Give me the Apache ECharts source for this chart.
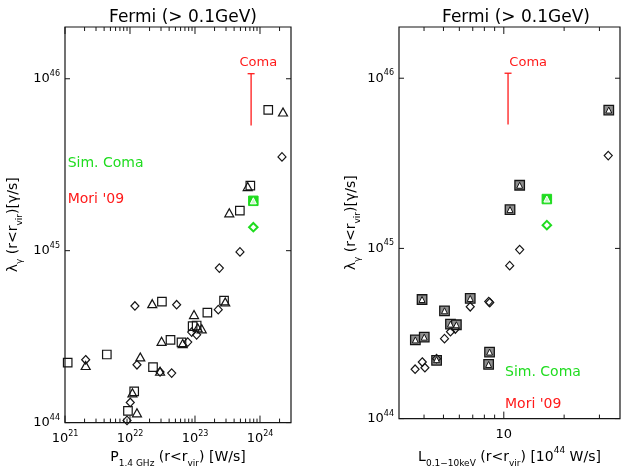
<!DOCTYPE html>
<html>
<head>
<meta charset="utf-8">
<script src="https://cdn.jsdelivr.net/npm/echarts@6/dist/echarts.min.js"></script>
<style>
  html, body { margin: 0; padding: 0; background: #fff; }
  #chart { width: 623px; height: 473px; }
</style>
</head>
<body>
<div id="chart"></div>
<script>
// ---------------- data ----------------
// Left panel: gamma-ray luminosity vs. 1.4 GHz radio power [W/s]
const radioSquares = [
  [1.1e21, 2.23e44], [4.4e21, 2.49e44], [3.1e22, 5.06e44], [1.55e23, 4.36e44],
  [2.8e23, 5.12e44], [9.2e22, 3.64e44], [1.06e23, 3.67e44], [4.2e22, 3.03e44],
  [6.2e22, 2.93e44], [2.26e22, 2.10e44], [1.16e22, 1.52e44], [9.3e21, 1.17e44],
  [1.34e24, 6.59e45], [7.1e23, 2.39e45], [4.9e23, 1.71e45]
];
const radioTriangles = [
  [2.08e21, 2.15e44], [2.2e22, 4.92e44], [9.66e22, 4.25e44], [2.92e23, 5.03e44],
  [1.27e23, 3.51e44], [1.10e23, 3.56e44], [3.06e22, 2.97e44], [6.47e22, 2.88e44],
  [1.44e22, 2.41e44], [2.9e22, 1.99e44], [1.09e22, 1.49e44], [1.28e22, 1.14e44],
  [2.26e24, 6.41e45], [6.47e23, 2.36e45], [3.37e23, 1.66e45]
];
const radioDiamonds = [
  [2.08e21, 2.32e44], [1.19e22, 4.77e44], [5.22e22, 4.85e44], [2.28e23, 4.54e44],
  [2.37e23, 7.92e44], [4.92e23, 9.84e44], [8.9e22, 3.36e44], [1.06e23, 3.24e44],
  [7.73e22, 2.94e44], [1.28e22, 2.17e44], [2.9e22, 1.97e44], [4.38e22, 1.94e44],
  [1.01e22, 1.31e44], [9.0e21, 1.03e44], [2.18e24, 3.51e45]
];
const radioSimComaBox = [[7.9e23, 1.95e45]];
const radioSimComaDiamond = [[7.9e23, 1.37e45]];
const radioComaLimit = [[7.3e23, 5.35e45, 1.07e46]];   // x, lower, upper

// Right panel: gamma-ray luminosity vs. 0.1-10 keV X-ray luminosity [1e44 W/s]
const xraySquares = [
  [3.62, 2.90e44], [3.91, 5.01e44], [4.01, 3.01e44], [4.62, 2.20e44],
  [5.06, 4.30e44], [5.42, 3.59e44], [5.80, 3.56e44], [6.8, 5.08e44],
  [8.4, 2.08e44], [8.49, 2.46e44], [10.74, 1.69e45], [12.0, 2.35e45],
  [33.4, 6.50e45]
];
const xrayTriangles = [
  [3.62, 2.90e44], [3.91, 5.01e44], [4.01, 3.01e44], [4.62, 2.22e44],
  [5.06, 4.30e44], [5.42, 3.59e44], [5.80, 3.56e44], [6.8, 5.08e44],
  [8.4, 2.08e44], [8.49, 2.46e44], [10.74, 1.69e45], [12.0, 2.35e45],
  [33.4, 6.50e45]
];
const xrayDiamonds = [
  [3.61, 1.95e44], [3.92, 2.15e44], [4.04, 1.99e44], [4.62, 2.25e44],
  [5.06, 2.95e44], [5.42, 3.24e44], [5.73, 3.36e44], [6.8, 4.54e44],
  [8.41, 4.87e44], [8.51, 4.81e44], [10.7, 7.92e44], [12.0, 9.84e44],
  [33.2, 3.51e45]
];
const xraySimComaBox = [[16.4, 1.95e45]];
const xraySimComaDiamond = [[16.4, 1.37e45]];
const xrayComaLimit = [[10.5, 5.35e45, 1.07e46]];

// axis ranges and tick positions
const lumRange = [1e44, 2e46];
const radioRange = [1e21, 3e24];
const xrayRange = [3, 38];
const lumTicks = [1e44, 1e45, 1e46];
const radioTicksMajor = [1e21, 1e22, 1e23, 1e24];
const radioTicksMinor = [
  2e21, 3e21, 4e21, 5e21, 6e21, 7e21, 8e21, 9e21,
  2e22, 3e22, 4e22, 5e22, 6e22, 7e22, 8e22, 9e22,
  2e23, 3e23, 4e23, 5e23, 6e23, 7e23, 8e23, 9e23,
  2e24
];
const xrayTicksMajor = [10];
const xrayTicksMinor = [4, 5, 6, 7, 8, 9, 20, 30];

// ---------------- styling ----------------
const FONT = 'DejaVu Sans';
const INK = '#151515';
const GREEN = '#1fdc1f';
const RED = '#ff1a1a';

const chart = echarts.init(document.getElementById('chart'), null, { renderer: 'canvas' });

function powLabel(v) {
  const e = Math.log10(v), r = Math.round(e);
  if (Math.abs(e - r) > 1e-6) return '';
  return '{b|10}{s|' + r + '}';
}
function xrayLabel(v) {
  const e = Math.log10(v), r = Math.round(e);
  if (Math.abs(e - r) > 1e-6) return '';
  return r === 1 ? '{b|10}' : '{b|10}{s|' + r + '}';
}
const tickRich = {
  b: { fontFamily: FONT, fontSize: 13, color: '#000', lineHeight: 18 },
  s: { fontFamily: FONT, fontSize: 8, color: '#000', lineHeight: 12, verticalAlign: 'top' }
};
const nameRich = {
  m: { fontFamily: FONT, fontSize: 14, color: '#000', lineHeight: 22 },
  sub: { fontFamily: FONT, fontSize: 9, color: '#000', lineHeight: 14, verticalAlign: 'bottom' },
  sup: { fontFamily: FONT, fontSize: 9, color: '#000', lineHeight: 16, verticalAlign: 'top' }
};

function logAxis(gi, range, formatter, extra) {
  return Object.assign({
    type: 'log', logBase: 10, gridIndex: gi, min: range[0], max: range[1],
    axisLine: { show: false }, axisTick: { show: false },
    splitLine: { show: false }, minorTick: { show: false }, minorSplitLine: { show: false },
    axisLabel: { formatter, rich: tickRich, color: '#000' },
    nameLocation: 'middle',
    nameTextStyle: { rich: nameRich }
  }, extra);
}

// inward IDL-style ticks on all four sides, placed through the axis scales
function tickSeries(gi, dir, values, len, ref) {
  return {
    type: 'custom', xAxisIndex: gi, yAxisIndex: gi, silent: true, clip: false, z: 6,
    data: values.map(v => dir === 'x' ? [v, ref] : [ref, v]),
    renderItem(params, api) {
      const cs = params.coordSys;
      const p = api.coord([api.value(0), api.value(1)]);
      const style = { stroke: INK, lineWidth: 1 };
      if (dir === 'x') {
        const b = cs.y + cs.height, t = cs.y;
        return { type: 'group', children: [
          { type: 'line', shape: { x1: p[0], y1: b, x2: p[0], y2: b - len }, style },
          { type: 'line', shape: { x1: p[0], y1: t, x2: p[0], y2: t + len }, style }
        ] };
      }
      const l = cs.x, r = cs.x + cs.width;
      return { type: 'group', children: [
        { type: 'line', shape: { x1: l, y1: p[1], x2: l + len, y2: p[1] }, style },
        { type: 'line', shape: { x1: r, y1: p[1], x2: r - len, y2: p[1] }, style }
      ] };
    }
  };
}

// measured Coma range drawn as a bar with an upper cap and its name
function comaBar(gi, data, labelDx) {
  return {
    type: 'custom', xAxisIndex: gi, yAxisIndex: gi, silent: true, clip: false, z: 4,
    data, encode: { x: 0, y: [1, 2] },
    renderItem(params, api) {
      const lo = api.coord([api.value(0), api.value(1)]);
      const hi = api.coord([api.value(0), api.value(2)]);
      const st = { stroke: RED, lineWidth: 1.3 };
      return { type: 'group', children: [
        { type: 'line', shape: { x1: lo[0], y1: lo[1], x2: hi[0], y2: hi[1] }, style: st },
        { type: 'line', shape: { x1: hi[0] - 3.5, y1: hi[1], x2: hi[0] + 3.5, y2: hi[1] }, style: st },
        { type: 'text', x: hi[0] + labelDx, y: hi[1] - 11,
          style: { text: 'Coma', fill: RED, font: '13px "' + FONT + '"',
                   textAlign: 'left', textVerticalAlign: 'middle' } }
      ] };
    }
  };
}

function marks(gi, data, symbol, size, fill, stroke, lw, z) {
  return {
    type: 'scatter', xAxisIndex: gi, yAxisIndex: gi, data, symbol, symbolSize: size,
    silent: true, z: z || 3, clip: false,
    itemStyle: { color: fill, borderColor: stroke, borderWidth: lw, opacity: 1 }
  };
}

const NONE = 'rgba(0,0,0,0)';
const gridStyle = { show: true, borderColor: INK, borderWidth: 1.2, backgroundColor: NONE, containLabel: false };
const titleStyle = { fontFamily: FONT, fontSize: 17, fontWeight: 'normal', color: '#000', lineHeight: 17 };

const option = {
  animation: false,
  backgroundColor: '#fff',
  textStyle: { fontFamily: FONT },
  title: [
    { text: 'Fermi (> 0.1GeV)', left: 178, top: 4, textAlign: 'center', textStyle: titleStyle },
    { text: 'Fermi (> 0.1GeV)', left: 511, top: 4, textAlign: 'center', textStyle: titleStyle }
  ],
  grid: [
    Object.assign({ left: 65, top: 27, width: 226, height: 397 }, gridStyle),
    Object.assign({ left: 399, top: 27, width: 223, height: 397 }, gridStyle)
  ],
  xAxis: [
    logAxis(0, radioRange, powLabel, {
      axisLabel: { formatter: powLabel, rich: tickRich, color: '#000', margin: 7 },
      name: '{m|P}{sub|1.4 GHz}{m| (r<r}{sub|vir}{m|) [W/s]}', nameGap: 22
    }),
    logAxis(1, xrayRange, xrayLabel, {
      axisLabel: { formatter: xrayLabel, rich: tickRich, color: '#000', margin: 7 },
      name: '{m|L}{sub|0.1\u221210keV}{m| (r<r}{sub|vir}{m|) [10}{sup|44}{m| W/s]}', nameGap: 22
    })
  ],
  yAxis: [
    logAxis(0, lumRange, powLabel, {
      axisLabel: { formatter: powLabel, rich: tickRich, color: '#000', margin: 5 },
      name: '{m|\u03bb}{sub|\u03b3}{m| (r<r}{sub|vir}{m|)[\u03b3/s]}', nameGap: 41, nameRotate: 90
    }),
    logAxis(1, lumRange, powLabel, {
      axisLabel: { formatter: powLabel, rich: tickRich, color: '#000', margin: 5 },
      name: '{m|\u03bb}{sub|\u03b3}{m| (r<r}{sub|vir}{m|)[\u03b3/s]}', nameGap: 37, nameRotate: 90
    })
  ],
  graphic: [
    { type: 'text', x: 67.7, y: 163.5, style: { text: 'Sim. Coma', fill: GREEN, font: '14px "' + FONT + '"', textVerticalAlign: 'middle' } },
    { type: 'text', x: 67.7, y: 199.3, style: { text: "Mori '09", fill: RED, font: '14px "' + FONT + '"', textVerticalAlign: 'middle' } },
    { type: 'text', x: 505, y: 372.7, style: { text: 'Sim. Coma', fill: GREEN, font: '14px "' + FONT + '"', textVerticalAlign: 'middle' } },
    { type: 'text', x: 505, y: 404.3, style: { text: "Mori '09", fill: RED, font: '14px "' + FONT + '"', textVerticalAlign: 'middle' } }
  ],
  series: [
    // left panel
    tickSeries(0, 'x', radioTicksMajor, 7, lumRange[0]),
    tickSeries(0, 'x', radioTicksMinor, 4, lumRange[0]),
    tickSeries(0, 'y', lumTicks, 5, radioRange[0]),
    marks(0, radioSquares, 'rect', 8.5, NONE, INK, 1.2, 3),
    marks(0, radioTriangles, 'triangle', [9, 8], NONE, INK, 1.2, 3),
    marks(0, radioDiamonds, 'diamond', [8, 8.5], NONE, INK, 1.2, 3),
    marks(0, radioSimComaBox, 'rect', 9.5, GREEN, GREEN, 1, 4),
    marks(0, radioSimComaBox, 'triangle', [6, 6], '#c9f7c9', '#ffffff', 1, 5),
    marks(0, radioSimComaDiamond, 'diamond', [8.5, 8.5], NONE, GREEN, 2, 4),
    comaBar(0, radioComaLimit, -11.6),
    // right panel
    tickSeries(1, 'x', xrayTicksMajor, 7, lumRange[0]),
    tickSeries(1, 'x', xrayTicksMinor, 4, lumRange[0]),
    tickSeries(1, 'y', lumTicks, 5, xrayRange[0]),
    marks(1, xraySquares, 'rect', 9.5, '#8f8f8f', INK, 1.3, 3),
    marks(1, xrayTriangles, 'triangle', [6, 6], '#ffffff', INK, 1, 4),
    marks(1, xrayDiamonds, 'diamond', [8, 8.5], NONE, INK, 1.2, 3),
    marks(1, xraySimComaBox, 'rect', 9.5, GREEN, GREEN, 1, 4),
    marks(1, xraySimComaBox, 'triangle', [6, 6], '#c9f7c9', '#ffffff', 1, 5),
    marks(1, xraySimComaDiamond, 'diamond', [8.5, 8.5], NONE, GREEN, 2, 4),
    comaBar(1, xrayComaLimit, 1.3)
  ]
};

chart.setOption(option);
</script>
</body>
</html>
